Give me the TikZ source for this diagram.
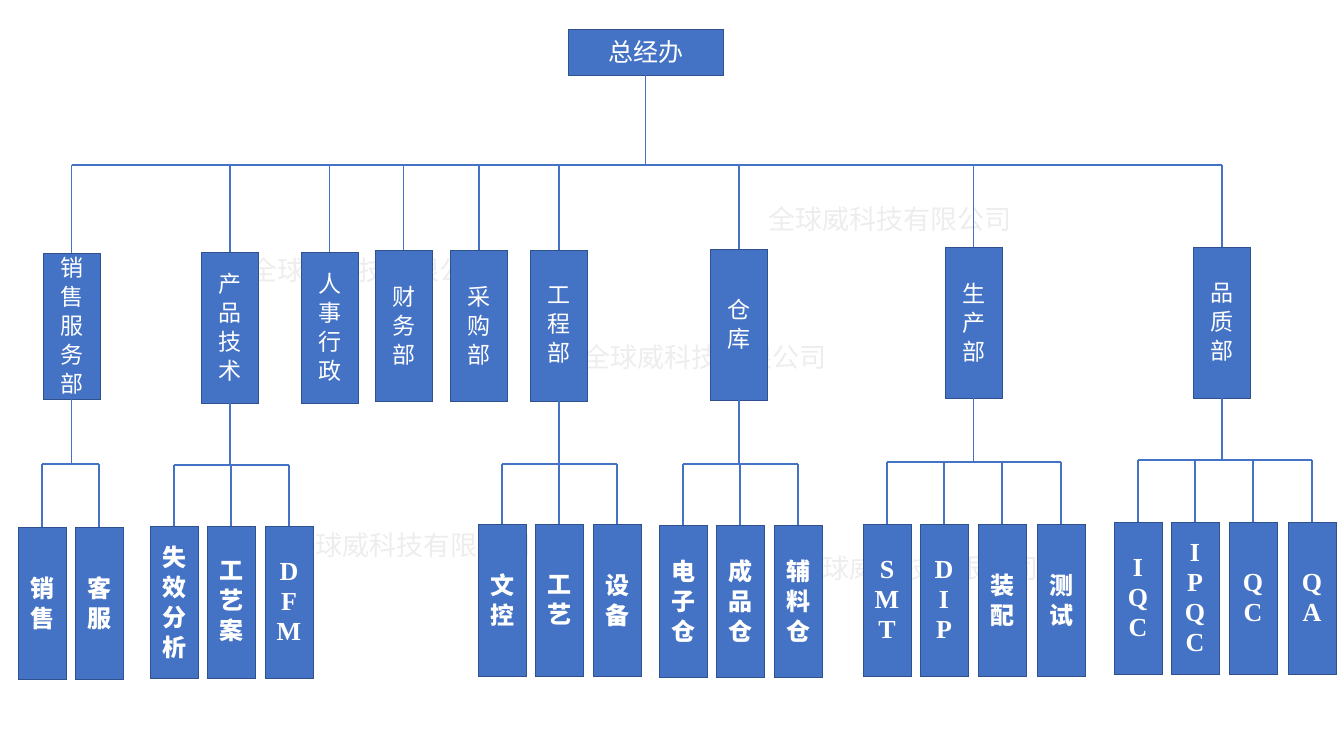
\documentclass[tikz,border=0pt]{standalone}
\usepackage{fontspec}
\newfontfamily\cjk{Noto Sans CJK SC}
\newfontfamily\lat{Liberation Serif}
\definecolor{boxblue}{HTML}{4472C4}
\definecolor{boxedge}{HTML}{2F528F}
\definecolor{lineblue}{HTML}{4472C4}
\definecolor{wm}{HTML}{EDEDED}
\begin{document}
\begin{tikzpicture}[x=1pt,y=-1pt,
 box/.style={draw=boxedge, fill=boxblue, line width=0.9pt, text=white, inner sep=0pt, align=center},
 dept/.style={box, minimum width=57pt, minimum height=151pt, font=\cjk\fontsize{23}{29}\selectfont},
 sub/.style={box, minimum width=48pt, minimum height=152pt, font=\cjk\bfseries\fontsize{24}{30}\selectfont},
 subl/.style={sub, font=\lat\bfseries\fontsize{26}{30}\selectfont},
 conn/.style={draw=lineblue, line width=1.1pt},
 wmark/.style={text=wm, font=\cjk\fontsize{27}{30}\selectfont, inner sep=0pt}]
\useasboundingbox (0,0) rectangle (1340,751);
% watermarks
\node[wmark] (wm1) at (890,219) {全球威科技有限公司};
\node[wmark] (wm2) at (372,270) {全球威科技有限公司};
\node[wmark] (wm3) at (705,357) {全球威科技有限公司};
\node[wmark] (wm4) at (410,545) {全球威科技有限公司};
\node[wmark] (wm5) at (917,568) {全球威科技有限公司};
% top
\node[box, minimum width=155pt, minimum height=46pt, font=\cjk\fontsize{25}{30}\selectfont] (top) at (645.5,52) {总经办};
% departments
\node[dept, minimum height=146pt] (d1) at (71.5,326) {销\\售\\服\\务\\部};
\node[dept] (d2) at (230,327.5) {产\\品\\技\\术};
\node[dept] (d3) at (329.5,327.5) {人\\事\\行\\政};
\node[dept] (d4) at (403.5,325.5) {财\\务\\部};
\node[dept] (d5) at (479,325.5) {采\\购\\部};
\node[dept] (d6) at (559,325.5) {工\\程\\部};
\node[dept] (d7) at (739,324.5) {仓\\库};
\node[dept] (d8) at (973.5,322.5) {生\\产\\部};
\node[dept] (d9) at (1222,322.5) {品\\质\\部};
% sub units
\node[sub] (s1) at (42,603) {销\\售};
\node[sub] (s2) at (99,603) {客\\服};
\node[sub] (p1) at (174,602) {失\\效\\分\\析};
\node[sub] (p2) at (231,602) {工\\艺\\案};
\node[subl] (p3) at (289,602) {D\\F\\M};
\node[sub] (e1) at (502,600) {文\\控};
\node[sub] (e2) at (559,600) {工\\艺};
\node[sub] (e3) at (617,600) {设\\备};
\node[sub] (w1) at (683,601) {电\\子\\仓};
\node[sub] (w2) at (740,601) {成\\品\\仓};
\node[sub] (w3) at (798,601) {辅\\料\\仓};
\node[subl] (m1) at (887,600) {S\\M\\T};
\node[subl] (m2) at (944,600) {D\\I\\P};
\node[sub] (m3) at (1002,600) {装\\配};
\node[sub] (m4) at (1061,600) {测\\试};
\node[subl] (q1) at (1138,598) {I\\Q\\C};
\node[subl] (q2) at (1195,598) {I\\P\\Q\\C};
\node[subl] (q3) at (1253,598) {Q\\C};
\node[subl] (q4) at (1312,598) {Q\\A};
% bus coordinates
\coordinate (bus) at (0,165);
\coordinate (bs) at (0,464);
\coordinate (bp) at (0,465);
\coordinate (be) at (0,464);
\coordinate (bw) at (0,464);
\coordinate (bm) at (0,462);
\coordinate (bq) at (0,460);
% top level connectors
\draw[conn] (top.south) -- (top.south |- bus);
\draw[conn] (d1.north |- bus) -- (d9.north |- bus);
\foreach \n in {d1,d2,d3,d4,d5,d6,d7,d8,d9}
  \draw[conn] (\n.north) -- (\n.north |- bus);
% sales
\draw[conn] (d1.south) -- (d1.south |- bs);
\draw[conn] (s1.north |- bs) -- (s2.north |- bs);
\foreach \n in {s1,s2} \draw[conn] (\n.north) -- (\n.north |- bs);
% product tech
\draw[conn] (d2.south) -- (d2.south |- bp);
\draw[conn] (p1.north |- bp) -- (p3.north |- bp);
\foreach \n in {p1,p2,p3} \draw[conn] (\n.north) -- (\n.north |- bp);
% engineering
\draw[conn] (d6.south) -- (d6.south |- be);
\draw[conn] (e1.north |- be) -- (e3.north |- be);
\foreach \n in {e1,e2,e3} \draw[conn] (\n.north) -- (\n.north |- be);
% warehouse
\draw[conn] (d7.south) -- (d7.south |- bw);
\draw[conn] (w1.north |- bw) -- (w3.north |- bw);
\foreach \n in {w1,w2,w3} \draw[conn] (\n.north) -- (\n.north |- bw);
% production
\draw[conn] (d8.south) -- (d8.south |- bm);
\draw[conn] (m1.north |- bm) -- (m4.north |- bm);
\foreach \n in {m1,m2,m3,m4} \draw[conn] (\n.north) -- (\n.north |- bm);
% quality
\draw[conn] (d9.south) -- (d9.south |- bq);
\draw[conn] (q1.north |- bq) -- (q4.north |- bq);
\foreach \n in {q1,q2,q3,q4} \draw[conn] (\n.north) -- (\n.north |- bq);
\end{tikzpicture}
\end{document}
